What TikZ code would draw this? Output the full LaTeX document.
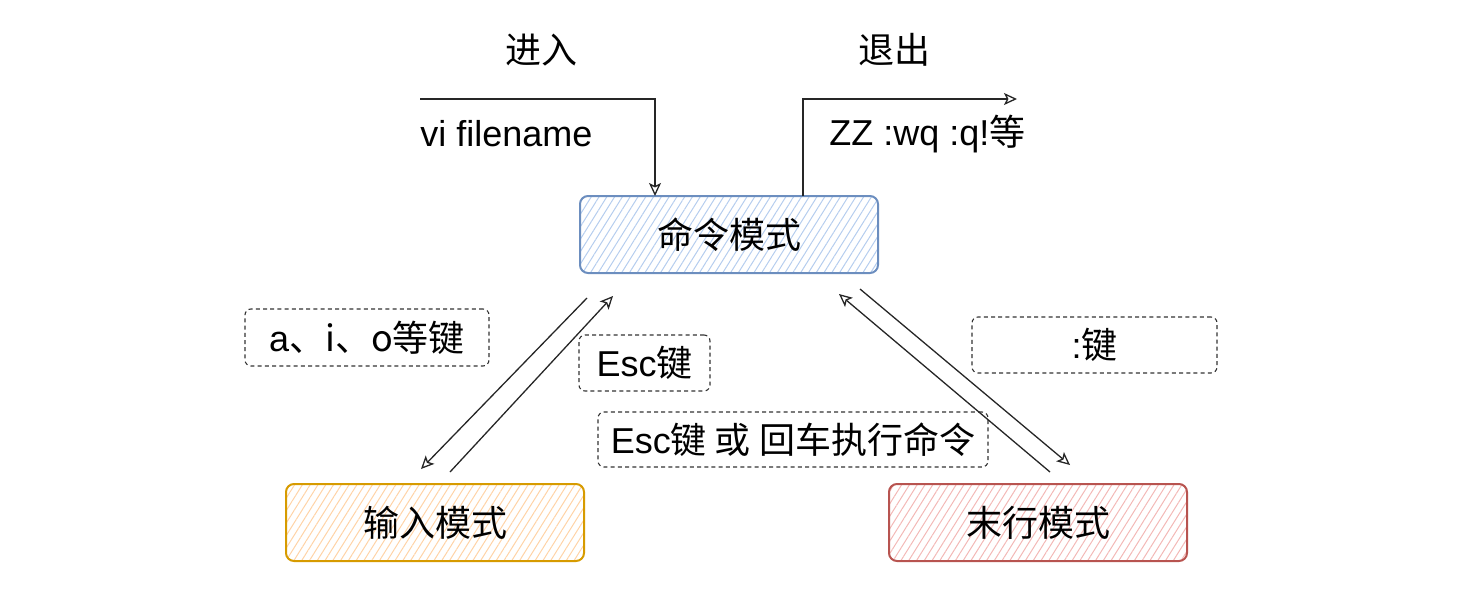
\documentclass[tikz,border=0pt]{standalone}
\usepackage{fontspec}
\setmainfont{Liberation Sans}
\newfontfamily\cjk{Noto Sans CJK SC}
\usetikzlibrary{arrows.meta,patterns.meta,calc}
\definecolor{bluedraw}{HTML}{6C8EBF}
\definecolor{bluehatch}{HTML}{B5CDEE}
\definecolor{orangedraw}{HTML}{D79B00}
\definecolor{orangehatch}{HTML}{FFD3A6}
\definecolor{reddraw}{HTML}{B85450}
\definecolor{redhatch}{HTML}{F3B8B6}
\definecolor{dashgray}{HTML}{333333}
\tikzset{
  modebox/.style={draw=#1draw, line width=1pt, rounded corners=4pt,
    pattern={Lines[angle=58,distance=3.3pt,line width=0.5pt]}, pattern color=#1hatch,
    minimum width=149pt, minimum height=38.5pt, inner sep=0pt, font=\fontsize{18pt}{20pt}\selectfont\cjk},
  lbl/.style={font=\fontsize{18pt}{20pt}\selectfont, inner sep=0pt},
  dashbox/.style={draw=dashgray, line width=0.55pt, dash pattern=on 2pt off 1.6pt, rounded corners=3pt,
    inner sep=0pt, font=\fontsize{18pt}{20pt}\selectfont},
  arr/.style={draw=black!85, line width=0.65pt, -{Stealth[open,length=6.5pt,width=6pt,inset=1.5pt]}},
  plain/.style={draw=black!85, line width=0.65pt}
}
\begin{document}
\begin{tikzpicture}[x=0.5pt,y=-0.5pt]
\path[use as bounding box] (0,0) rectangle (1477,595);
% mode boxes
\node[modebox=blue] (cmd) at (729,234.5) {命令模式};
\node[modebox=orange] (ins) at (435,522.5) {输入模式};
\node[modebox=red] (last) at (1038,522.5) {末行模式};
% top labels
\node[lbl] (enter) at (541,50) {\cjk 进入};
\node[lbl] (exit) at (894,50) {\cjk 退出};
\node[lbl, anchor=west] (vi) at (420,134) {vi filename};
\node[lbl, anchor=west] (zz) at (829,134) {ZZ :wq :q!\cjk{等}};
% enter / exit arrows
\coordinate (e1) at (420,99);
\coordinate (e2) at (655,99);
\coordinate (e3) at (655,196);
\draw[arr] (e1) -- (e2) -- (e3);
\coordinate (x1) at (803,196);
\coordinate (x2) at (803,99);
\coordinate (x3) at (1017,99);
\draw[arr] (x1) -- (x2) -- (x3);
% dashed labels
\node[dashbox, minimum width=122pt, minimum height=28.5pt] (aio) at (367,337.5) {a\cjk{、}i\cjk{、}o\cjk{等键}};
\node[dashbox, minimum width=65.5pt, minimum height=28pt] (esc) at (644.5,363) {Esc\cjk{键}};
\node[dashbox, minimum width=195pt, minimum height=27.5pt] (escret) at (793,439.5) {Esc\cjk{键} \cjk{或 回车执行命令}};
\node[dashbox, minimum width=122.5pt, minimum height=28pt] (colon) at (1094.5,345) {:\cjk{键}};
% diagonal arrows
\coordinate (a1) at (587,298);
\coordinate (a2) at (421,469);
\draw[arr] (a1) -- (a2);
\coordinate (b1) at (450,472);
\coordinate (b2) at (613,296);
\draw[arr] (b1) -- (b2);
\coordinate (c1) at (1050,472);
\coordinate (c2) at (839,294);
\draw[arr] (c1) -- (c2);
\coordinate (d1) at (860,289);
\coordinate (d2) at (1070,465);
\draw[arr] (d1) -- (d2);
\end{tikzpicture}
\end{document}
